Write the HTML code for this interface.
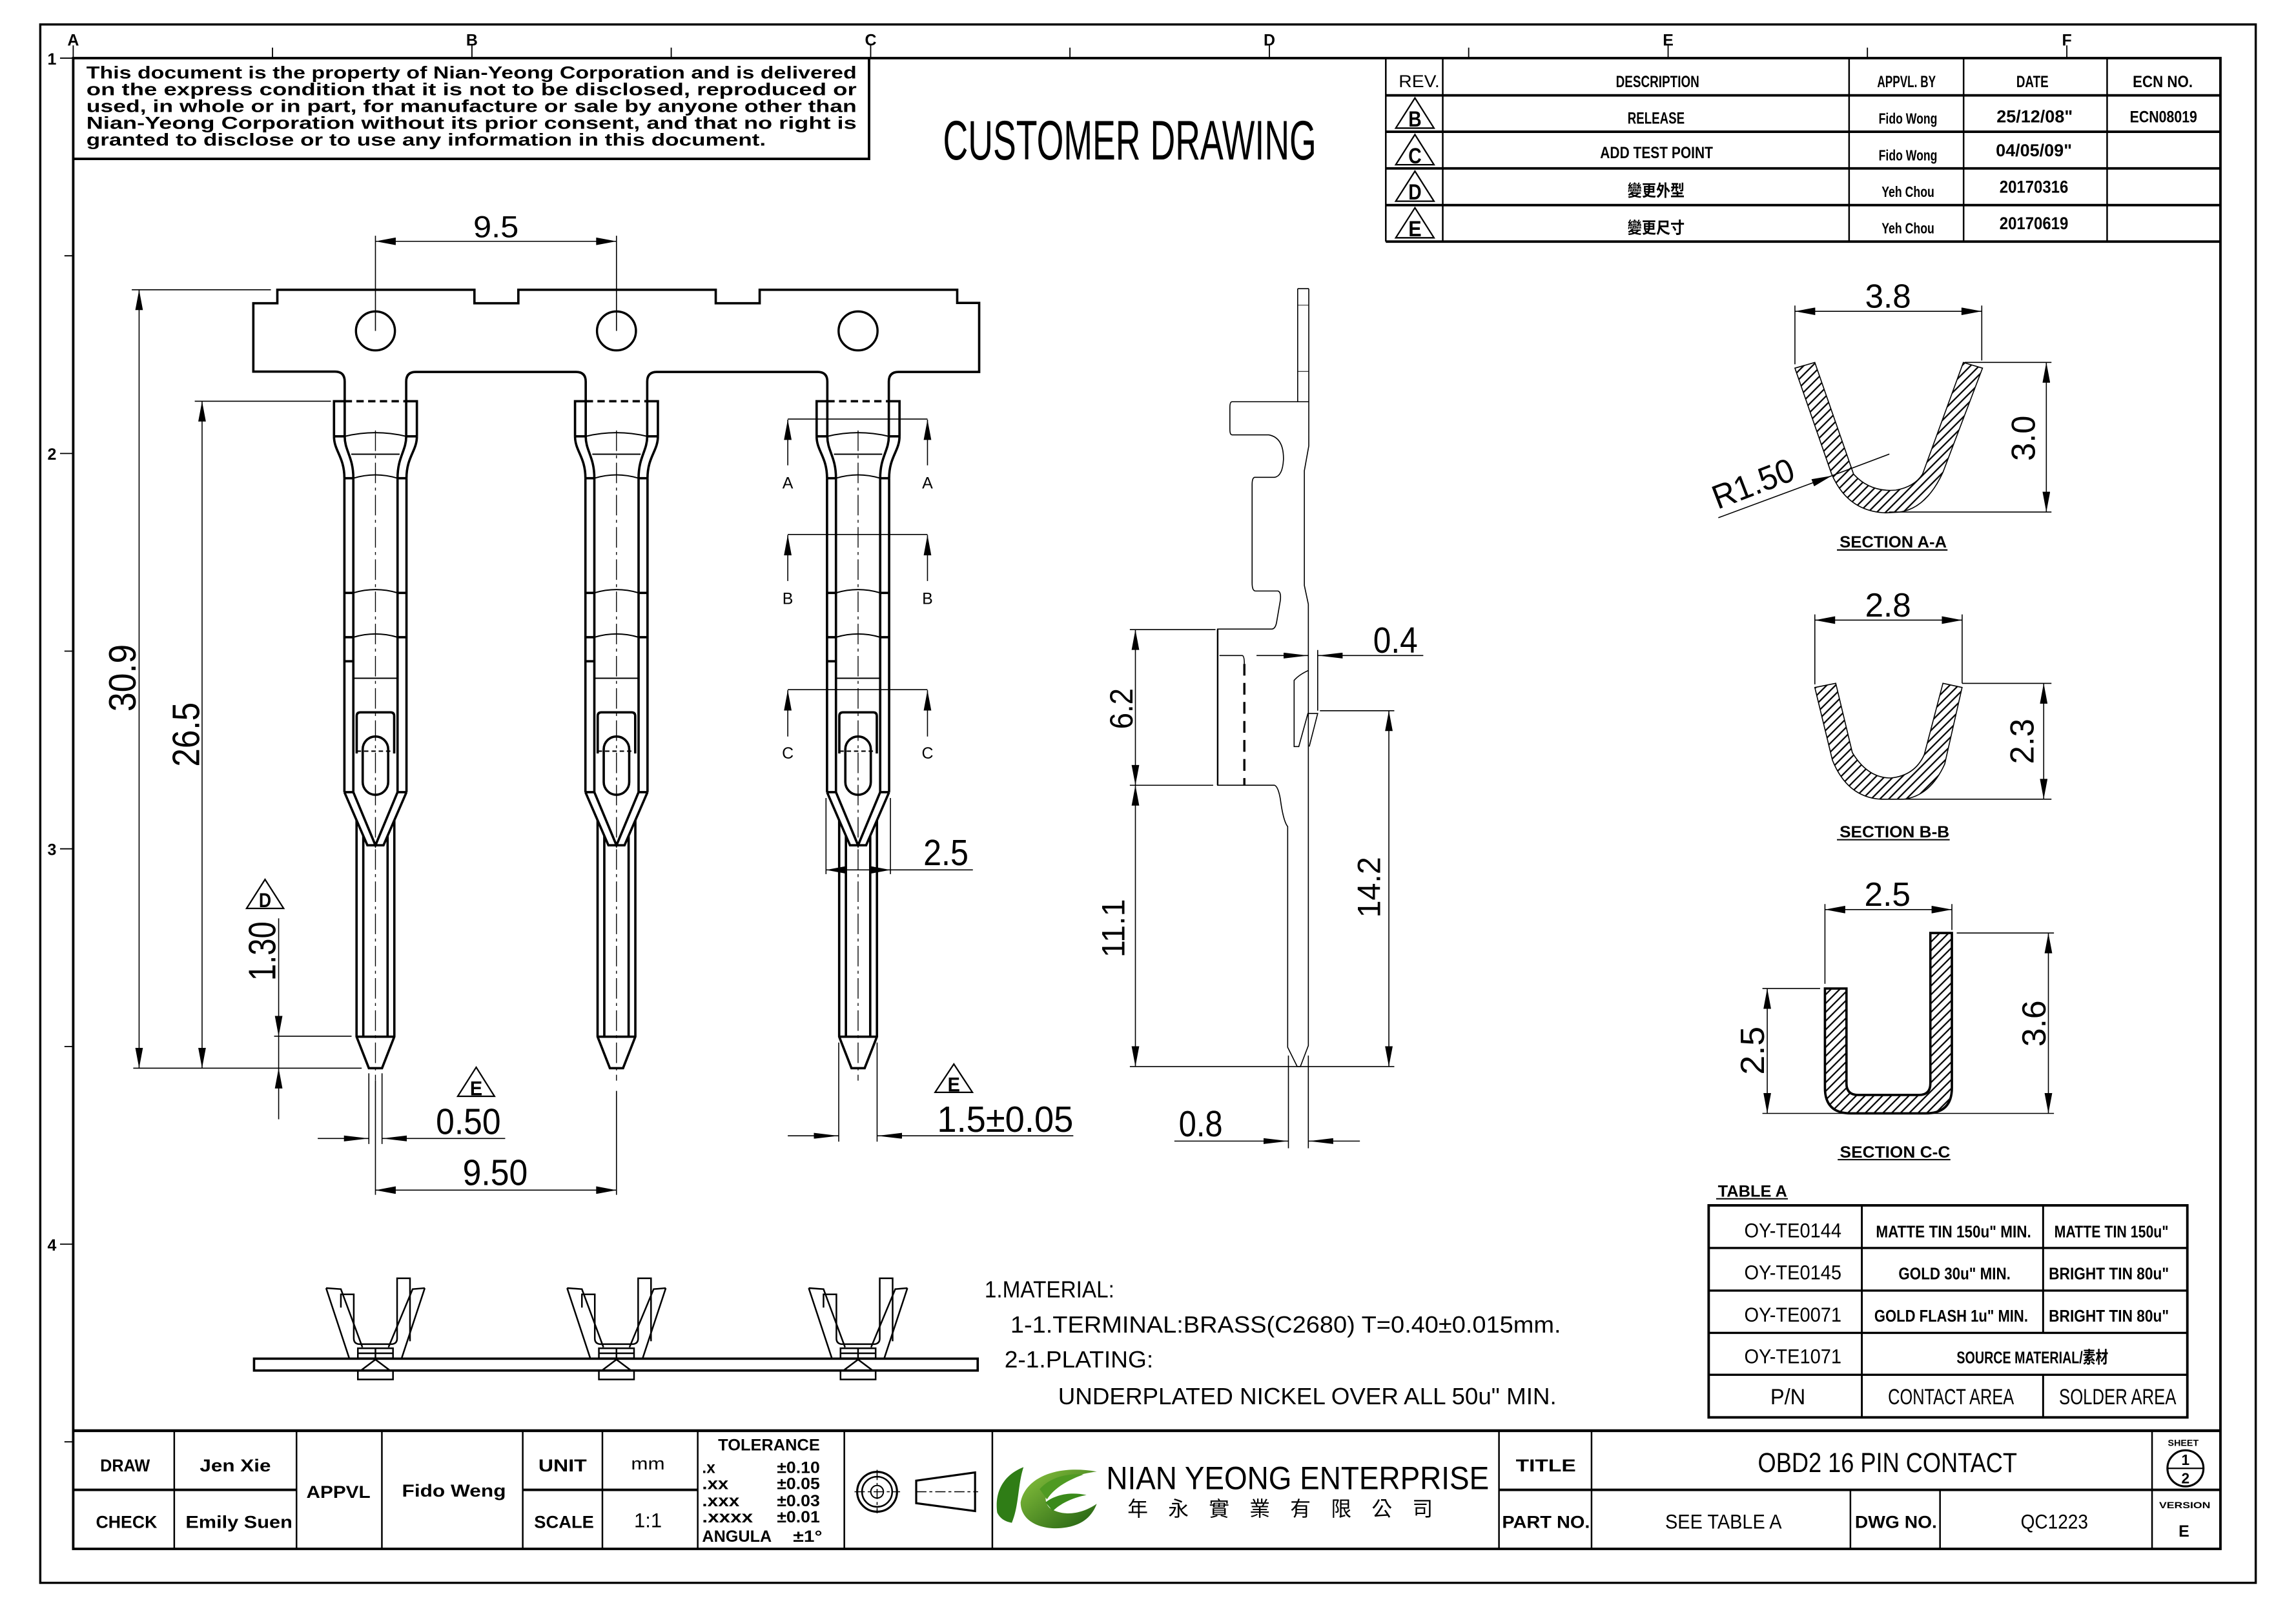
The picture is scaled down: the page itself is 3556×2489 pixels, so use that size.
<!DOCTYPE html>
<html><head><meta charset="utf-8">
<style>
html,body{margin:0;padding:0;background:#fff;}
svg{display:block;}
text{font-family:"Liberation Sans Narrow","Liberation Sans",sans-serif;fill:#000;stroke:none;}
.b{font-weight:bold;}
.cjk{font-family:"Liberation Sans","Noto Sans CJK TC",sans-serif;}
.k{stroke:#000;fill:none;}
.ng path{vector-effect:non-scaling-stroke;}
</style></head><body>
<svg width="3556" height="2489" viewBox="0 0 1568 1097.5" preserveAspectRatio="none" xmlns="http://www.w3.org/2000/svg">
<defs>
<marker id="a" viewBox="0 0 16 6" refX="16" refY="3" markerWidth="16" markerHeight="5.2" orient="auto-start-reverse" markerUnits="userSpaceOnUse"><path d="M0,0L16,3L0,6z" fill="#000"/></marker>
<marker id="t" viewBox="0 0 17 4" refX="17" refY="2" markerWidth="17" markerHeight="4" orient="auto-start-reverse" markerUnits="userSpaceOnUse"><path d="M0,0L17,2L0,4z" fill="#000"/></marker>
<pattern id="hA" patternUnits="userSpaceOnUse" width="6" height="6" patternTransform="scale(5.737,3.865)"><rect width="6" height="6" fill="#fff"/><path d="M-1,1L1,-1M0,6L6,0M5,7L7,5" stroke="#000" stroke-width="1"/></pattern>
<pattern id="hD" patternUnits="userSpaceOnUse" width="6" height="6"><rect width="6" height="6" fill="#fff"/><path d="M-1,1L1,-1M0,6L6,0M5,7L7,5" stroke="#000" stroke-width="1"/></pattern>
<linearGradient id="g" x1="0" y1="0" x2="1" y2="1"><stop offset="0" stop-color="#8cc63f"/><stop offset="1" stop-color="#1f5e10"/></linearGradient>

<g id="T" fill="none" stroke="#000">
 <g stroke-width="1.6">
  <path d="M-28.3,298V274H-21M21,274H28.3V298"/>
  <path d="M-28.3,298H-21M21,298H28.3"/>
  <path d="M-28.3,298C-28.3,308 -21.2,312 -21.2,326.6M-21,298C-21,308 -15.1,312 -15.1,326.6M28.3,298C28.3,308 21.2,312 21.2,326.6M21,298C21,308 15.1,312 15.1,326.6"/>
  <path d="M-21.2,326.6V541M-15.1,326.6V541M15.1,326.6V541M21.2,326.6V541"/>
  <path d="M-21.2,326.6H-15.1M15.1,326.6H21.2M-21.2,404.9H-15.1M15.1,404.9H21.2M-21.2,435.2H-15.1M15.1,435.2H21.2M-21.2,451.6H-15.1M-21.2,541H-15.1M15.1,541H21.2"/>
  <path d="M-12.8,514.6V489Q-12.8,486.5 -10.3,486.5H10.3Q12.8,486.5 12.8,489V514.6"/>
  <rect x="-8.7" y="503" width="17.4" height="39.8" rx="8.7"/>
  <path d="M-21.2,541L-5.5,577.3H5.5L21.2,541M-15.1,541L0,577.3L15.1,541"/>
  <path d="M-12.9,560.2V708L-4.5,729.5H4.5L12.9,708V560.2M-8.3,571V708M8.3,571V708M-12.9,708H12.9"/>
  <path d="M-21,274H21" stroke-dasharray="5,3"/>
 </g>
 <g stroke-width="0.9">
  <path d="M-21,298Q0,293 21,298M-16.5,310.2H16.5M-15.1,326.6Q0,322 15.1,326.6M-15.1,404.9Q0,400.4 15.1,404.9M-15.1,435.2Q0,430.7 15.1,435.2M-15.1,463.2H15.1"/>
  <path d="M-12.8,513H12.8" stroke-dasharray="3,2"/>
 </g>
 <path d="M0,294V738" stroke-width="0.6" stroke-dasharray="14,3,2,3"/>
</g>

<g id="S" fill="none" stroke="#000" stroke-width="1.1">
 <path d="M-33.7,879.7L-23.6,880.4L-8.9,920.1M-33.7,879.7L-17.7,928.2"/>
 <path d="M33.7,879.7L25.4,880.4L8.9,920.1M33.7,879.7L17.7,928.2"/>
 <path d="M-23.6,893V884H-14.8V914Q-14.8,918 -10.5,918H10.5Q14.8,918 14.8,914V873H23.6V916"/>
 <rect x="-12" y="920.8" width="24" height="6.8"/>
 <path d="M0,920.8V927.6M-12,924.2H12"/>
 <path d="M-10,936L0,928.5L10,936"/>
 <rect x="-12" y="936" width="24" height="6.1"/>
</g>
</defs>

<!-- frames -->
<rect x="27.5" y="16.7" width="1513" height="1064.3" class="k" stroke-width="1.5"/>
<rect x="50" y="39.7" width="1466.4" height="1018.1" class="k" stroke-width="1.7"/>

<!-- zone markers -->
<g class="k" stroke-width="0.8">
<path d="M50,31V39.7M322.3,31V39.7M594.6,31V39.7M866.9,31V39.7M1139.2,31V39.7M1411.5,31V39.7"/>
<path d="M186.1,32.5V39.7M458.4,32.5V39.7M730.7,32.5V39.7M1003,32.5V39.7M1275.3,32.5V39.7"/>
<path d="M41,39.7H50M41,309.7H50M41,579.7H50M41,849.7H50"/>
<path d="M44,174.7H50M44,444.7H50M44,714.7H50M44,984.7H50"/>
</g>
<g class="b" font-size="11" text-anchor="middle">
<text x="50" y="31">A</text><text x="322.3" y="31">B</text><text x="594.6" y="31">C</text><text x="866.9" y="31">D</text><text x="1139.2" y="31">E</text><text x="1411.5" y="31">F</text>
<text x="35.5" y="44">1</text><text x="35.5" y="314">2</text><text x="35.5" y="584">3</text><text x="35.5" y="854">4</text>
</g>

<!-- notice -->
<path d="M593.5,39.7V108.5H50" class="k" stroke-width="1.7"/>
<g class="b" font-size="12">
<text x="59" y="53.5" textLength="526" lengthAdjust="spacingAndGlyphs">This document is the property of Nian-Yeong Corporation and is delivered</text>
<text x="59" y="65" textLength="526" lengthAdjust="spacingAndGlyphs">on  the  express condition that it is not to be disclosed, reproduced or</text>
<text x="59" y="76.5" textLength="526" lengthAdjust="spacingAndGlyphs">used, in whole or in part, for manufacture or sale by anyone other than</text>
<text x="59" y="88" textLength="526" lengthAdjust="spacingAndGlyphs">Nian-Yeong Corporation without  its prior consent, and that  no right  is</text>
<text x="59" y="99.5" textLength="464" lengthAdjust="spacingAndGlyphs">granted to disclose or to use any information in this  document.</text>
</g>
<text x="644" y="109" font-size="38" textLength="255" lengthAdjust="spacingAndGlyphs">CUSTOMER  DRAWING</text>

<!-- revision table -->
<path d="M946.4,39.7V165M985.3,39.7V165M1262.8,39.7V165M1341,39.7V165M1439,39.7V165" class="k" stroke-width="1.1"/>
<path d="M946.4,65.1H1516.4M946.4,90H1516.4M946.4,115H1516.4M946.4,140.1H1516.4M946.4,165H1516.4" class="k" stroke-width="1.7"/>
<path d="M966.3,66.9L953.2,87.5H979.3ZM966.3,91.9L953.2,112.5H979.3ZM966.3,116.9L953.2,137.4H979.3ZM966.3,141.9L953.2,162.4H979.3Z" class="k" stroke-width="1"/>
<g font-size="15" text-anchor="middle" class="b">
<text x="966.3" y="86.5" textLength="9" lengthAdjust="spacingAndGlyphs">B</text>
<text x="966.3" y="111.5" textLength="9" lengthAdjust="spacingAndGlyphs">C</text>
<text x="966.3" y="136.3" textLength="9" lengthAdjust="spacingAndGlyphs">D</text>
<text x="966.3" y="161.3" textLength="9" lengthAdjust="spacingAndGlyphs">E</text>
</g>
<text x="969.2" y="59.5" font-size="12" text-anchor="middle" textLength="28" lengthAdjust="spacingAndGlyphs">REV.</text>
<g class="b" font-size="11" text-anchor="middle">
<text x="1132" y="59.5" textLength="57" lengthAdjust="spacingAndGlyphs">DESCRIPTION</text>
<text x="1302" y="59.5" textLength="40" lengthAdjust="spacingAndGlyphs">APPVL. BY</text>
<text x="1388" y="59.5" textLength="22" lengthAdjust="spacingAndGlyphs">DATE</text>
<text x="1477" y="59.5" textLength="41" lengthAdjust="spacingAndGlyphs">ECN NO.</text>
<text x="1131" y="84.5" textLength="39" lengthAdjust="spacingAndGlyphs">RELEASE</text>
<text x="1303" y="84.5" font-size="10" textLength="40" lengthAdjust="spacingAndGlyphs">Fido Wong</text>
<text x="1389.5" y="83.5" font-size="12" textLength="52" lengthAdjust="spacingAndGlyphs">25/12/08"</text>
<text x="1477.5" y="83.5" textLength="46" lengthAdjust="spacingAndGlyphs">ECN08019</text>
<text x="1131.3" y="108" textLength="77" lengthAdjust="spacingAndGlyphs">ADD TEST POINT</text>
<text x="1303" y="109.5" font-size="10" textLength="40" lengthAdjust="spacingAndGlyphs">Fido Wong</text>
<text x="1389" y="106.6" font-size="12" textLength="52" lengthAdjust="spacingAndGlyphs">04/05/09"</text>
<text x="1131" y="134" class="cjk b" textLength="39" lengthAdjust="spacingAndGlyphs">變更外型</text>
<text x="1303" y="134.5" font-size="10" textLength="36" lengthAdjust="spacingAndGlyphs">Yeh Chou</text>
<text x="1389" y="131.6" font-size="12" textLength="47" lengthAdjust="spacingAndGlyphs">20170316</text>
<text x="1131" y="159.5" class="cjk b" textLength="39" lengthAdjust="spacingAndGlyphs">變更尺寸</text>
<text x="1303" y="159.5" font-size="10" textLength="36" lengthAdjust="spacingAndGlyphs">Yeh Chou</text>
<text x="1389" y="156.5" font-size="12" textLength="47" lengthAdjust="spacingAndGlyphs">20170619</text>
</g>

<!-- carrier strip -->
<path class="k" stroke-width="1.6" d="M235.4,298V260.6Q235.4,253.8 228.8,253.8H173V207.1H189.4V197.9H324V207.1H354V197.9H488.8V207.1H518.8V197.9H653.7V206.9H668.7V254H613.6Q607,254 607,260.6V298M277.4,298V260.6Q277.4,254 284,254H393.4Q400,254 400,260.6V298M442,298V260.6Q442,254 448.6,254H558.4Q565,254 565,260.6V298"/>
<g class="k" stroke-width="1.5">
<circle cx="256.4" cy="226" r="13.3"/><circle cx="421" cy="226" r="13.3"/><circle cx="586" cy="226" r="13.3"/>
</g>
<use href="#T" x="256.4"/>
<use href="#T" x="421"/>
<use href="#T" x="586"/>

<!-- dims terminals -->
<g class="k" stroke-width="0.7">
 <path d="M256.4,226V161M421,226V161"/>
 <path d="M256.4,164.8H421" marker-start="url(#a)" marker-end="url(#a)"/>
 <path d="M90,197.9H185M133,274H226M91,729.5H247"/>
 <path d="M95,197.9V729.5" marker-start="url(#a)" marker-end="url(#a)"/>
 <path d="M138,274V729.5" marker-start="url(#a)" marker-end="url(#a)"/>
 <path d="M187.2,707.7H240.1"/>
 <path d="M190.3,627.2V707.7" marker-end="url(#a)"/>
 <path d="M190.3,764.4V729.5" marker-end="url(#a)"/>
 <path d="M190.3,707.7V729.5"/>
 <path d="M251.9,733V781.3M260.9,733V781.3"/>
 <path d="M217,777.5H251.9" marker-end="url(#t)"/>
 <path d="M345,777.5H260.9" marker-end="url(#t)"/>
 <path d="M256.4,738V816M421,745V816"/>
 <path d="M256.4,812.8H421" marker-start="url(#a)" marker-end="url(#a)"/>
 <path d="M538,286.2H633.4M538,365H633.4M538,471H633.4"/>
 <path d="M538,317.8V286.6" marker-end="url(#a)"/>
 <path d="M633.4,317.8V286.6" marker-end="url(#a)"/>
 <path d="M538,396.8V365.4" marker-end="url(#a)"/>
 <path d="M633.4,396.8V365.4" marker-end="url(#a)"/>
 <path d="M538,503V471.4" marker-end="url(#a)"/>
 <path d="M633.4,503V471.4" marker-end="url(#a)"/>
 <path d="M564.1,545V597M608.1,545V597"/>
 <path d="M564.1,594.1H608.1" marker-start="url(#a)" marker-end="url(#a)"/>
 <path d="M608.1,594.1H664.4"/>
 <path d="M572.8,712V779.7M599,712V779.7"/>
 <path d="M538,775.7H572.8" marker-end="url(#t)"/>
 <path d="M733,775.7H599" marker-end="url(#t)"/>
</g>
<g class="k" stroke-width="1">
<path d="M181,600.6L168.4,620.4H193.7Z"/>
<path d="M325.2,728.9L312.6,748.7H337.7Z"/>
<path d="M651.4,726.7L638.6,746H664.1Z"/>
</g>
<g class="b" font-size="14" text-anchor="middle">
<text x="181" y="619.5" textLength="8.5" lengthAdjust="spacingAndGlyphs">D</text>
<text x="325.2" y="748" textLength="8.5" lengthAdjust="spacingAndGlyphs">E</text>
<text x="651.4" y="745.5" textLength="8.5" lengthAdjust="spacingAndGlyphs">E</text>
</g>
<g font-size="11" text-anchor="middle">
<text x="538" y="333.5">A</text><text x="633.4" y="333.5">A</text>
<text x="538" y="412.5">B</text><text x="633.4" y="412.5">B</text>
<text x="538" y="518">C</text><text x="633.4" y="518">C</text>
</g>
<g font-size="25">
<text x="338.7" y="162" text-anchor="middle" font-size="21" textLength="31" lengthAdjust="spacingAndGlyphs">9.5</text>
<text transform="translate(92.5,463) rotate(-90)" text-anchor="middle" font-size="26" textLength="46" lengthAdjust="spacingAndGlyphs">30.9</text>
<text transform="translate(136,501.7) rotate(-90)" text-anchor="middle" font-size="26" textLength="44" lengthAdjust="spacingAndGlyphs">26.5</text>
<text transform="translate(188.1,649.6) rotate(-90)" text-anchor="middle" font-size="26" textLength="40.5" lengthAdjust="spacingAndGlyphs">1.30</text>
<text x="297.7" y="774.5" textLength="44.3" lengthAdjust="spacingAndGlyphs">0.50</text>
<text x="316" y="809.4" textLength="44.4" lengthAdjust="spacingAndGlyphs">9.50</text>
<text x="630.6" y="590.8" textLength="30.8" lengthAdjust="spacingAndGlyphs">2.5</text>
<text x="640" y="773" textLength="93" lengthAdjust="spacingAndGlyphs">1.5±0.05</text>
</g>

<!-- side view -->
<g transform="matrix(0.1518,0,0,0.3768,749.6,189.6)" class="ng" fill="none" stroke="#000" stroke-width="1.6">
<path d="M900,20H950M900,20V225"/>
<path d="M900,50H950M900,170H950" stroke-width="0.9"/>
<path d="M950,20V305L930,350V558L948,592V1392L912,1430H898L855,1395V995Q835,985 822,945Q812,922 795,920H540V637H785Q800,636 805,625L822,585Q826,570 812,568H710Q695,568 695,553V375Q695,362 708,362H795Q832,360 836,330Q838,290 770,285H605Q595,285 595,275V235Q595,225 605,225H950"/>
<path d="M540,637V920" stroke-width="2.4"/>
<path d="M548,685H650Q660,685 660,700"/>
<path d="M948,712Q905,720 884,730V850H905L946,790H990L952,850M990,675V785"/>
</g>
<path d="M849.8,453.4V536.3" class="k" stroke-width="1.5" stroke-dasharray="8,5"/>
<g class="k" stroke-width="0.7">
<path d="M771.6,430H830.1M771.6,536.3H828.5M771.6,728.4H952.2M901.4,485.4H952.2"/>
<path d="M775.4,430V536.3" marker-start="url(#a)" marker-end="url(#a)"/>
<path d="M775.4,536.3V728.4" marker-start="url(#a)" marker-end="url(#a)"/>
<path d="M948.5,485.4V728.4" marker-start="url(#a)" marker-end="url(#a)"/>
<path d="M858.1,447.7H893.5" marker-end="url(#t)"/>
<path d="M972,447.7H899.9" marker-end="url(#t)"/>
<path d="M879.9,720.9V784.2M893.5,720.9V784.2"/>
<path d="M802,779.3H879.9" marker-end="url(#t)"/>
<path d="M928.7,779.3H893.5" marker-end="url(#t)"/>
</g>
<g font-size="22">
<text transform="translate(773.5,484) rotate(-90)" text-anchor="middle" textLength="28" lengthAdjust="spacingAndGlyphs">6.2</text>
<text transform="translate(768,634) rotate(-90)" text-anchor="middle" textLength="40" lengthAdjust="spacingAndGlyphs">11.1</text>
<text transform="translate(942.5,606) rotate(-90)" text-anchor="middle" textLength="41.5" lengthAdjust="spacingAndGlyphs">14.2</text>
<text x="937.8" y="445.8" font-size="25" textLength="30.4" lengthAdjust="spacingAndGlyphs">0.4</text>
<text x="805" y="776" font-size="25" textLength="30" lengthAdjust="spacingAndGlyphs">0.8</text>
</g>

<!-- sections A-A, B-B -->
<g transform="matrix(0.1743,0,0,0.2587,1155.2,176.4)" class="ng" stroke="#000" stroke-width="1.6" fill="url(#hA)">
<path d="M405,290L483,275L635,570Q700,618 800,612Q872,604 905,570L1065,275L1140,290L985,565Q920,660 815,670L760,672Q610,668 548,568Z"/>
<path d="M483,1133L565,1122L630,1305Q690,1372 780,1372Q875,1366 912,1310L985,1122L1060,1133L992,1335Q935,1420 830,1428L740,1428Q610,1422 552,1325Z"/>
</g>
<path d="M1246.3,675.1H1261V740Q1261,747.8 1269,747.8H1310.5Q1318.3,747.8 1318.3,740V637.2H1333V743Q1333,760.4 1315,760.4H1264Q1246.3,760.4 1246.3,743Z" stroke="#000" stroke-width="1.6" fill="url(#hD)"/>
<g class="k" stroke-width="0.7">
<path d="M1225.8,208.7V248.8M1353.4,208.7V246.2"/>
<path d="M1225.8,212.6H1353.4" marker-start="url(#a)" marker-end="url(#a)"/>
<path d="M1341.7,247.5H1401M1290,349.7H1401"/>
<path d="M1397.5,247.5V349.7" marker-start="url(#a)" marker-end="url(#a)"/>
<path d="M1173.5,353.6L1251,324.9" marker-end="url(#a)"/>
<path d="M1251,324.9L1290.3,310.1"/>
<path d="M1239.4,419.6V467.4M1340,419.6V466.7"/>
<path d="M1239.4,423.5H1340" marker-start="url(#a)" marker-end="url(#a)"/>
<path d="M1340,466.7H1401M1284.2,545.8H1401"/>
<path d="M1395.7,466.7V545.8" marker-start="url(#a)" marker-end="url(#a)"/>
<path d="M1246.3,617.4V671.9M1333,617.4V635.2"/>
<path d="M1246.3,621.2H1333" marker-start="url(#a)" marker-end="url(#a)"/>
<path d="M1203.6,675.1H1243M1203.6,760.4H1402.7"/>
<path d="M1206.9,675.1V760.4" marker-start="url(#a)" marker-end="url(#a)"/>
<path d="M1336.3,637.2H1402.7"/>
<path d="M1398.9,637.2V760.4" marker-start="url(#a)" marker-end="url(#a)"/>
</g>
<path d="M1254.5,375.6H1330M1254.5,573.5H1331.5M1255,792H1332M1172,818.7H1221" class="k" stroke-width="0.9"/>
<g font-size="23">
<text x="1289.4" y="210" text-anchor="middle" textLength="31.4" lengthAdjust="spacingAndGlyphs">3.8</text>
<text transform="translate(1389.6,299.3) rotate(-90)" text-anchor="middle" textLength="31" lengthAdjust="spacingAndGlyphs">3.0</text>
<text transform="translate(1173,348) rotate(-21)" textLength="58" lengthAdjust="spacingAndGlyphs">R1.50</text>
<text x="1289.4" y="421" text-anchor="middle" textLength="31.4" lengthAdjust="spacingAndGlyphs">2.8</text>
<text transform="translate(1388.8,506.3) rotate(-90)" text-anchor="middle" textLength="31" lengthAdjust="spacingAndGlyphs">2.3</text>
<text x="1289" y="618.7" text-anchor="middle" textLength="31.5" lengthAdjust="spacingAndGlyphs">2.5</text>
<text transform="translate(1204.7,717.5) rotate(-90)" text-anchor="middle" textLength="33" lengthAdjust="spacingAndGlyphs">2.5</text>
<text transform="translate(1397,699) rotate(-90)" text-anchor="middle" textLength="31.7" lengthAdjust="spacingAndGlyphs">3.6</text>
</g>
<g class="b" font-size="11">
<text x="1256.3" y="374" textLength="73.2" lengthAdjust="spacingAndGlyphs">SECTION  A-A</text>
<text x="1256.3" y="572" textLength="75" lengthAdjust="spacingAndGlyphs">SECTION  B-B</text>
<text x="1256.5" y="790.6" textLength="75.3" lengthAdjust="spacingAndGlyphs">SECTION  C-C</text>
<text x="1173.2" y="817.2" textLength="47.3" lengthAdjust="spacingAndGlyphs">TABLE  A</text>
</g>

<!-- table A -->
<path d="M1166.9,823.2H1493.8V968H1166.9Z" class="k" stroke-width="1.7"/>
<path d="M1166.9,852.3H1493.8M1166.9,881.4H1493.8M1166.9,910.3H1493.8M1166.9,938.9H1493.8" class="k" stroke-width="1.5"/>
<path d="M1271.5,823.2V968M1395.3,823.2V910.3M1395.3,938.9V968" class="k" stroke-width="1.3"/>
<g font-size="14" text-anchor="middle">
<text x="1224.4" y="845" textLength="66.4" lengthAdjust="spacingAndGlyphs">OY-TE0144</text>
<text x="1224.4" y="873.8" textLength="66.4" lengthAdjust="spacingAndGlyphs">OY-TE0145</text>
<text x="1224.4" y="902.5" textLength="66.4" lengthAdjust="spacingAndGlyphs">OY-TE0071</text>
<text x="1224.4" y="931" textLength="66.4" lengthAdjust="spacingAndGlyphs">OY-TE1071</text>
<text x="1221" y="959" font-size="15" textLength="24" lengthAdjust="spacingAndGlyphs">P/N</text>
<text x="1332.4" y="959" font-size="15" textLength="86" lengthAdjust="spacingAndGlyphs">CONTACT  AREA</text>
<text x="1446.2" y="959" font-size="15" textLength="80" lengthAdjust="spacingAndGlyphs">SOLDER  AREA</text>
</g>
<g class="b" font-size="11.5" text-anchor="middle">
<text x="1334.1" y="845" textLength="106" lengthAdjust="spacingAndGlyphs">MATTE  TIN  150u"  MIN.</text>
<text x="1441.9" y="845" textLength="78" lengthAdjust="spacingAndGlyphs">MATTE  TIN  150u"</text>
<text x="1334.8" y="873.8" textLength="76.5" lengthAdjust="spacingAndGlyphs">GOLD  30u"  MIN.</text>
<text x="1440.2" y="873.8" textLength="82" lengthAdjust="spacingAndGlyphs">BRIGHT  TIN  80u"</text>
<text x="1332.5" y="902.5" textLength="105" lengthAdjust="spacingAndGlyphs">GOLD  FLASH  1u"  MIN.</text>
<text x="1440.2" y="902.5" textLength="82" lengthAdjust="spacingAndGlyphs">BRIGHT  TIN  80u"</text>
<text x="1388" y="931" class="cjk b" textLength="103.5" lengthAdjust="spacingAndGlyphs">SOURCE  MATERIAL/素材</text>
</g>

<!-- bottom sketches -->
<rect x="173.5" y="927.9" width="494.2" height="8.1" class="k" stroke-width="1.6"/>
<use href="#S" x="256.4"/>
<use href="#S" x="421"/>
<use href="#S" x="586"/>

<!-- notes -->
<g font-size="16">
<text x="672.4" y="886" textLength="88.6" lengthAdjust="spacingAndGlyphs">1.MATERIAL:</text>
<text x="690" y="910" textLength="376" lengthAdjust="spacingAndGlyphs">1-1.TERMINAL:BRASS(C2680)  T=0.40±0.015mm.</text>
<text x="686" y="934" textLength="101.6" lengthAdjust="spacingAndGlyphs">2-1.PLATING:</text>
<text x="722.6" y="959" textLength="340.4" lengthAdjust="spacingAndGlyphs">UNDERPLATED  NICKEL  OVER  ALL  50u"  MIN.</text>
</g>

<!-- title block -->
<path d="M50,977.1H1516.4" class="k" stroke-width="1.9"/>
<path d="M50,1017.5H202.5M357,1017.5H476.5M1023.7,1017.5H1516.4" class="k" stroke-width="1.7"/>
<path d="M119,977.1V1057.8M202.5,977.1V1057.8M260.8,977.1V1057.8M357,977.1V1057.8M411.4,977.1V1057.8M476.5,977.1V1057.8M576.6,977.1V1057.8M677.7,977.1V1057.8M1023.7,977.1V1057.8M1086.9,977.1V1057.8M1469.7,977.1V1057.8M1263.7,1017.5V1057.8M1324.9,1017.5V1057.8" class="k" stroke-width="1.1"/>
<g class="b" font-size="12" text-anchor="middle">
<text x="85.4" y="1005" textLength="34" lengthAdjust="spacingAndGlyphs">DRAW</text>
<text x="160.7" y="1005" textLength="48.6" lengthAdjust="spacingAndGlyphs">Jen Xie</text>
<text x="86.4" y="1043.5" textLength="41.8" lengthAdjust="spacingAndGlyphs">CHECK</text>
<text x="163.2" y="1043.5" textLength="73" lengthAdjust="spacingAndGlyphs">Emily Suen</text>
<text x="231.1" y="1023" textLength="43.7" lengthAdjust="spacingAndGlyphs">APPVL</text>
<text x="310" y="1022" textLength="71" lengthAdjust="spacingAndGlyphs">Fido Weng</text>
<text x="384.2" y="1005" textLength="33" lengthAdjust="spacingAndGlyphs">UNIT</text>
<text x="442.5" y="1003.5" font-weight="normal" textLength="23" lengthAdjust="spacingAndGlyphs">mm</text>
<text x="385.2" y="1043.5" textLength="40.8" lengthAdjust="spacingAndGlyphs">SCALE</text>
<text x="442.5" y="1043" font-weight="normal" font-size="14" textLength="19" lengthAdjust="spacingAndGlyphs">1:1</text>
<text x="1055.7" y="1005" textLength="41" lengthAdjust="spacingAndGlyphs">TITLE</text>
<text x="1055.8" y="1043.5" textLength="60" lengthAdjust="spacingAndGlyphs">PART NO.</text>
<text x="1294.8" y="1043.5" textLength="56" lengthAdjust="spacingAndGlyphs">DWG NO.</text>
<text x="1491" y="987.6" font-size="6" textLength="21" lengthAdjust="spacingAndGlyphs">SHEET</text>
<text x="1492" y="1030" font-size="6" textLength="35" lengthAdjust="spacingAndGlyphs">VERSION</text>
<text x="1491.5" y="1049.5" font-size="11">E</text>
</g>
<g font-size="14" text-anchor="middle">
<text x="1289" y="1005.3" font-size="19" textLength="177" lengthAdjust="spacingAndGlyphs">OBD2  16  PIN  CONTACT</text>
<text x="1177" y="1044" textLength="79.6" lengthAdjust="spacingAndGlyphs">SEE  TABLE  A</text>
<text x="1403" y="1044" textLength="46" lengthAdjust="spacingAndGlyphs">QC1223</text>
</g>
<circle cx="1492.5" cy="1002.8" r="12.3" class="k" stroke-width="1.4"/>
<path d="M1480.2,1002.8H1504.8" class="k" stroke-width="1"/>
<g class="b" font-size="10" text-anchor="middle">
<text x="1492.5" y="1000.5">1</text>
<text x="1492.5" y="1013">2</text>
</g>
<!-- tolerance -->
<g class="b" font-size="11">
<text x="490.4" y="990.6" textLength="69.5" lengthAdjust="spacingAndGlyphs">TOLERANCE</text>
<text x="479.5" y="1006" textLength="9" lengthAdjust="spacingAndGlyphs">.x</text>
<text x="479.5" y="1017" textLength="18" lengthAdjust="spacingAndGlyphs">.xx</text>
<text x="479.5" y="1028.8" textLength="25.5" lengthAdjust="spacingAndGlyphs">.xxx</text>
<text x="479.5" y="1039.8" textLength="34.7" lengthAdjust="spacingAndGlyphs">.xxxx</text>
<text x="479.5" y="1053" textLength="47.5" lengthAdjust="spacingAndGlyphs">ANGULA</text>
<text x="530.6" y="1006" textLength="29.3" lengthAdjust="spacingAndGlyphs">±0.10</text>
<text x="530.6" y="1017" textLength="29.3" lengthAdjust="spacingAndGlyphs">±0.05</text>
<text x="530.6" y="1028.8" textLength="29.3" lengthAdjust="spacingAndGlyphs">±0.03</text>
<text x="530.6" y="1039.8" textLength="29.3" lengthAdjust="spacingAndGlyphs">±0.01</text>
<text x="541.6" y="1053" textLength="20" lengthAdjust="spacingAndGlyphs">±1°</text>
</g>
<!-- projection symbol -->
<g class="k">
<circle cx="599" cy="1018.8" r="13.6" stroke-width="1.4"/>
<circle cx="599" cy="1018.8" r="10.3" stroke-width="1.1"/>
<circle cx="599" cy="1018.8" r="4.3" stroke-width="0.9"/>
<path d="M583.6,1018.8H614.7M599,1003.8V1033.5" stroke-width="0.7" stroke-dasharray="7,2,2,2"/>
<path d="M625.7,1011.2L665.9,1005.6V1032L625.7,1026.6Z" stroke-width="1.4"/>
<path d="M625.7,1018.8H668" stroke-width="0.7" stroke-dasharray="7,2,2,2"/>
</g>
<!-- logo -->
<path d="M681,1033C679,1018 686,1007 699,1002C695,1014 696,1028 691,1040C686,1039 683,1037 681,1033Z" fill="#2f7d16"/>
<path d="M749,1005C720,1000 700,1010 697,1026C697,1040 713,1046 729,1043C740,1041 746,1035 749,1027C739,1034 726,1036 717,1030C710,1023 714,1010 749,1005Z" fill="url(#g)"/>
<path d="M710,1017C717,1009 729,1006 740,1007C729,1011 720,1016 715,1024Z" fill="#4f9a22"/>
<path d="M714,1026C722,1020 732,1019 742,1021C732,1023 724,1027 719,1032Z" fill="#3a8a1a"/>
<text x="755.5" y="1017" font-size="22" textLength="261.4" lengthAdjust="spacingAndGlyphs">NIAN YEONG ENTERPRISE</text>
<text x="770" y="1035.4" class="cjk" font-size="14" textLength="208.5" lengthAdjust="spacing">年永實業有限公司</text>
</svg>
</body></html>
